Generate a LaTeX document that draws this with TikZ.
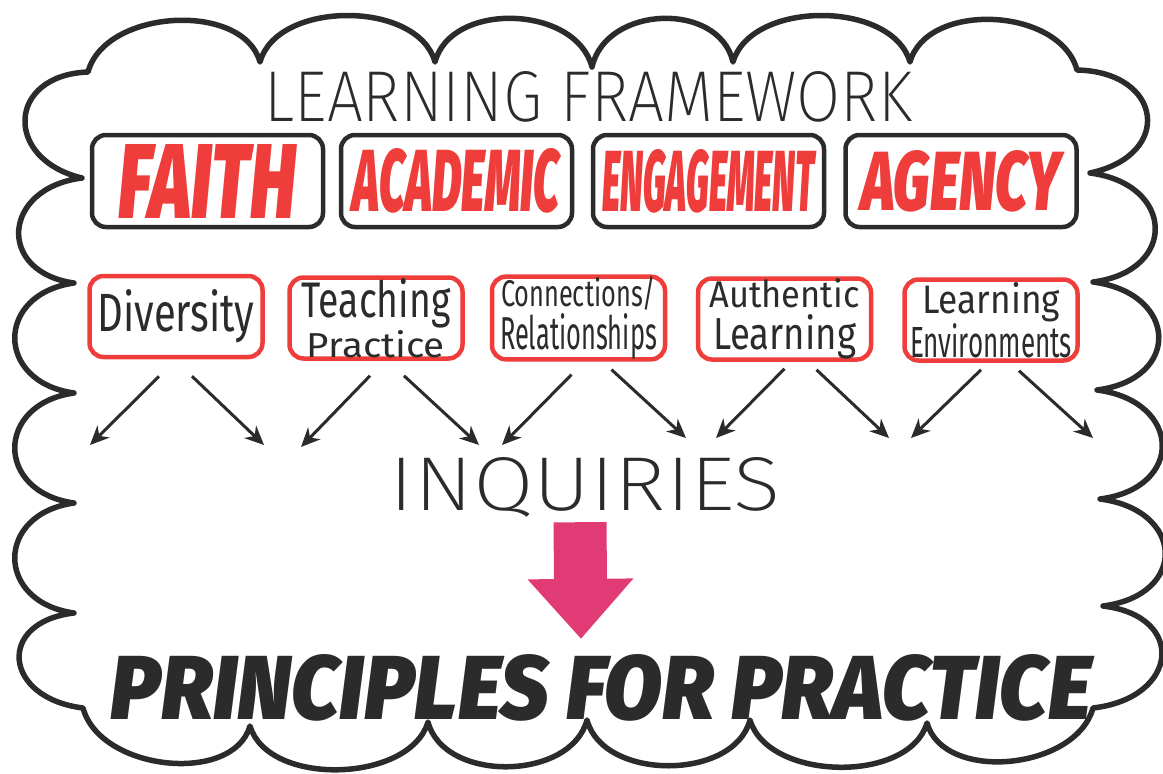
\documentclass[tikz,border=0pt]{standalone}
\usepackage{graphicx}
\usepackage{fontspec}
\usetikzlibrary{arrows.meta}
\setmainfont{Fira Sans}
\IfFontExistsTF{Fira Sans ExtraLight}{\newfontfamily\thinf{Fira Sans ExtraLight}}{%
  \IfFontExistsTF{Fira Sans Light}{\newfontfamily\thinf{Fira Sans Light}}{\newfontfamily\thinf{Fira Sans}}}
\IfFontExistsTF{Fira Sans Black Italic}{\newfontfamily\heavyf{Fira Sans Black Italic}}{%
  \IfFontExistsTF{Fira Sans ExtraBold Italic}{\newfontfamily\heavyf{Fira Sans ExtraBold Italic}}{\newfontfamily\heavyf{Liberation Sans Bold Italic}}}
\definecolor{ink}{HTML}{2B2B2B}
\definecolor{redc}{HTML}{EE3D3A}
\definecolor{pinkc}{HTML}{E03B74}
\newcommand\fitt[3]{\resizebox{#1pt}{#2pt}{\fontsize{40}{40}\selectfont #3}}
\tikzset{
  cloud/.style={draw=ink, line width=5.5pt, line join=round},
  bbox/.style={draw=ink, line width=4.5pt, rounded corners=14pt, minimum width=231pt, minimum height=92pt, inner sep=0pt},
  rbox/.style={draw=redc, line width=4.5pt, rounded corners=14pt, minimum width=173pt, minimum height=81pt, inner sep=0pt, align=center, font=\fontsize{1}{1}\selectfont},
  arr/.style={draw=ink, line width=3pt, -{Stealth[length=19pt,width=17pt,inset=6pt]}},
  plain/.style={inner sep=0pt, text=ink},
  bigarrow/.style={draw=pinkc, line width=53pt, -{Triangle[length=60pt,width=102pt]}},
}
\begin{document}
\begin{tikzpicture}[x=1pt,y=-1pt]
\useasboundingbox (0,0) rectangle (1163,774);
% cloud outline
\draw[cloud] (88,72)
 .. controls (105,9) and (243,1) .. (260,62)
 .. controls (277,0) and (418,0) .. (435,62)
 .. controls (451,1) and (576,5) .. (592,67)
 .. controls (606,5) and (719,1) .. (733,62)
 .. controls (751,0) and (892,0) .. (910,62)
 .. controls (927,1) and (1060,7) .. (1077,70)
 .. controls (1163,72) and (1174,155) .. (1090,173)
 .. controls (1175,184) and (1178,271) .. (1093,282)
 .. controls (1178,293) and (1182,379) .. (1097,390)
 .. controls (1182,401) and (1185,488) .. (1100,499)
 .. controls (1185,510) and (1188,595) .. (1103,606)
 .. controls (1187,616) and (1179,698) .. (1093,708)
 .. controls (1076,770) and (944,783) .. (927,723)
 .. controls (909,784) and (768,781) .. (750,720)
 .. controls (734,781) and (603,781) .. (587,720)
 .. controls (571,781) and (444,783) .. (428,722)
 .. controls (410,783) and (268,787) .. (250,726)
 .. controls (233,785) and (100,771) .. (83,708)
 .. controls (3,698) and (-4,622) .. (74,613)
 .. controls (-5,602) and (-5,514) .. (74,503)
 .. controls (-5,492) and (-5,404) .. (74,393)
 .. controls (-5,382) and (-5,294) .. (74,283)
 .. controls (-4,272) and (2,188) .. (82,178)
 .. controls (3,159) and (7,75) .. (88,72) -- cycle;

% title
\node[plain] (title) at (588.5,97) {\fitt{647}{50}{\thinf LEARNING FRAMEWORK}};

% black boxes
\node[bbox] (faith) at (207.5,181) {\fitt{177}{74}{\heavyf\color{redc}FAITH}};
\node[bbox] (acad) at (456.5,181) {\fitt{207}{63}{\heavyf\color{redc}ACADEMIC}};
\node[bbox] (eng) at (708.5,181) {\fitt{212}{62}{\heavyf\color{redc}ENGAGEMENT}};
\node[bbox] (agency) at (961,181) {\fitt{200}{60}{\heavyf\color{redc}AGENCY}};

% red boxes
\node[rbox] (div) at (176,316.5) {\fitt{157}{42}{\color{ink}Diversity}};
\node[rbox] (teach) at (376,318) {\fitt{149}{39}{\color{ink}Teaching}\\[1pt]\fitt{138}{27}{\color{ink}Practice}};
\node[rbox] (conn) at (578.5,318) {\fitt{155}{30}{\color{ink}Connections/}\\[2pt]\fitt{157}{36}{\color{ink}Relationships}};
\node[rbox] (auth) at (784.5,319) {\fitt{150}{29}{\color{ink}Authentic}\\[6pt]\fitt{143}{35}{\color{ink}Learning}};
\node[rbox] (env) at (991,320) {\fitt{138}{31}{\color{ink}Learning}\\[1pt]\fitt{162}{34}{\color{ink}Environments}};

% arrow tips
\coordinate (d1) at (90,445);
\coordinate (d2) at (264,445);
\coordinate (t1) at (301,447);
\coordinate (t2) at (479,445);
\coordinate (c1) at (502,445);
\coordinate (c2) at (686,438);
\coordinate (a1) at (716,438);
\coordinate (a2) at (889,438);
\coordinate (e1) at (911,438);
\coordinate (e2) at (1093,438);

\draw[arr] ([xshift=-17pt,yshift=-17pt]div.south) -- (d1);
\draw[arr] ([xshift=16pt,yshift=-17pt]div.south) -- (d2);
\draw[arr] ([xshift=-6pt,yshift=-15pt]teach.south) -- (t1);
\draw[arr] ([xshift=28pt,yshift=-15pt]teach.south) -- (t2);
\draw[arr] ([xshift=-7pt,yshift=-13pt]conn.south) -- (c1);
\draw[arr] ([xshift=33pt,yshift=-8pt]conn.south) -- (c2);
\draw[arr] ([xshift=0pt,yshift=-7pt]auth.south) -- (a1);
\draw[arr] ([xshift=32pt,yshift=-8pt]auth.south) -- (a2);
\draw[arr] ([xshift=-10pt,yshift=-7pt]env.south) -- (e1);
\draw[arr] ([xshift=28pt,yshift=-8pt]env.south) -- (e2);

% inquiries
\node[plain] (inq) at (585.5,483.5) {\fitt{391}{53}{\thinf\raisebox{0pt}[\height][0pt]{INQUIRIES}}};

% principles
\node[plain] (ppp) at (601,687.5) {\fitt{980}{65}{\heavyf PRINCIPLES FOR PRACTICE}};

% pink arrow
\draw[bigarrow] ([xshift=-5.5pt,yshift=-12pt]inq.south) -- ([xshift=-20pt,yshift=15pt]ppp.north);
\end{tikzpicture}
\end{document}
